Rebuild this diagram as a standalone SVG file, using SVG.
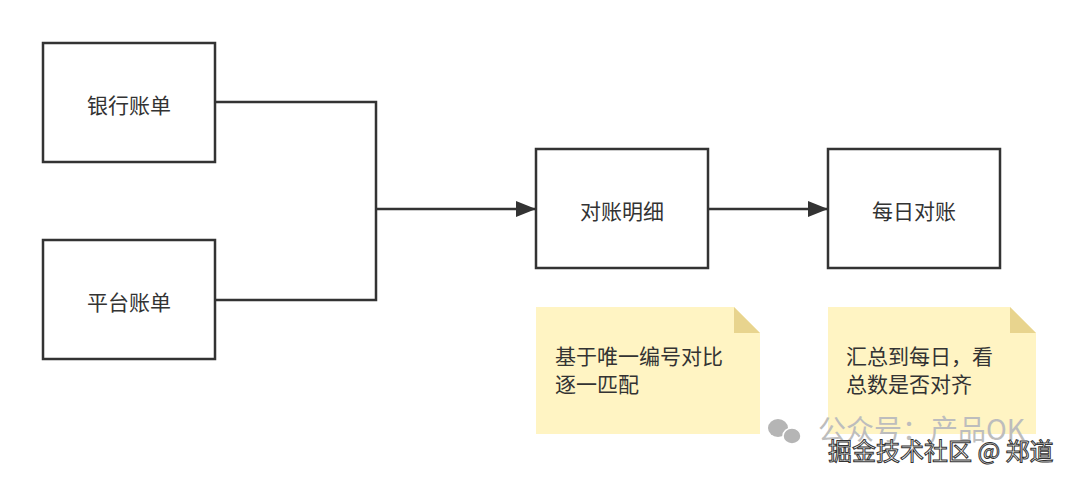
<svg xmlns="http://www.w3.org/2000/svg" width="1080" height="477" viewBox="0 0 1080 477">
<defs>
<style>
.box{fill:#fff;stroke:#333;stroke-width:2.5}
.lbl{font-family:"Noto Sans CJK SC","Noto Sans",sans-serif;font-size:21px;fill:#333;text-anchor:middle;dominant-baseline:central}
.note{fill:#fff4c3}
.fold{fill:#e8d48e}
.nt{font-family:"Noto Sans CJK SC","Noto Sans",sans-serif;font-size:21px;fill:#333}
.edge{fill:none;stroke:#333;stroke-width:2.5}
</style>
<marker id="arr" viewBox="0 0 20 16" refX="19" refY="8" markerWidth="20" markerHeight="16" markerUnits="userSpaceOnUse" orient="auto">
<path d="M0,0 L20,8 L0,16 Z" fill="#333"/>
</marker>
</defs>
<rect width="1080" height="477" fill="#fff"/>
<g id="connectors">
<path class="edge" d="M215,102 H376 V300 H215"/>
<path class="edge" d="M376,209 H535" marker-end="url(#arr)"/>
<path class="edge" d="M708,209 H827" marker-end="url(#arr)"/>
</g>
<g id="bank"><rect class="box" x="43" y="43" width="172" height="119"/><text class="lbl" x="129" y="104">银行账单</text></g>
<g id="platform"><rect class="box" x="43" y="240" width="172" height="119"/><text class="lbl" x="129" y="301">平台账单</text></g>
<g id="detail"><rect class="box" x="536" y="149" width="172" height="119"/><text class="lbl" x="622" y="210">对账明细</text></g>
<g id="daily"><rect class="box" x="828" y="149" width="172" height="119"/><text class="lbl" x="914" y="210">每日对账</text></g>
<g id="note1">
<path class="note" d="M536,307 H734 L760,333 V434 H536 Z"/>
<path class="fold" d="M734,307 L760,333 H734 Z"/>
<text class="nt" x="555" y="364">基于唯一编号对比</text>
<text class="nt" x="555" y="392">逐一匹配</text>
</g>
<g id="note2">
<path class="note" d="M828,307 H1010 L1036,333 V434 H828 Z"/>
<path class="fold" d="M1010,307 L1036,333 H1010 Z"/>
<text class="nt" x="846" y="364">汇总到每日，看</text>
<text class="nt" x="846" y="392">总数是否对齐</text>
</g>
<g id="watermark">
<ellipse cx="778" cy="428" rx="10" ry="9" fill="#b5b5b5"/>
<ellipse cx="792" cy="436" rx="9" ry="8" fill="#b5b5b5" stroke="#fff" stroke-width="1.5"/>
<text x="818" y="440" font-family="Noto Sans CJK SC,sans-serif" font-size="28" fill="#bdbdbd">公众号：产品OK</text>
<text x="828" y="460" font-family="Noto Sans CJK SC,sans-serif" font-size="24" fill="#fff" stroke="#333" stroke-width="1">掘金技术社区 @ 郑道</text>
</g>
</svg>
